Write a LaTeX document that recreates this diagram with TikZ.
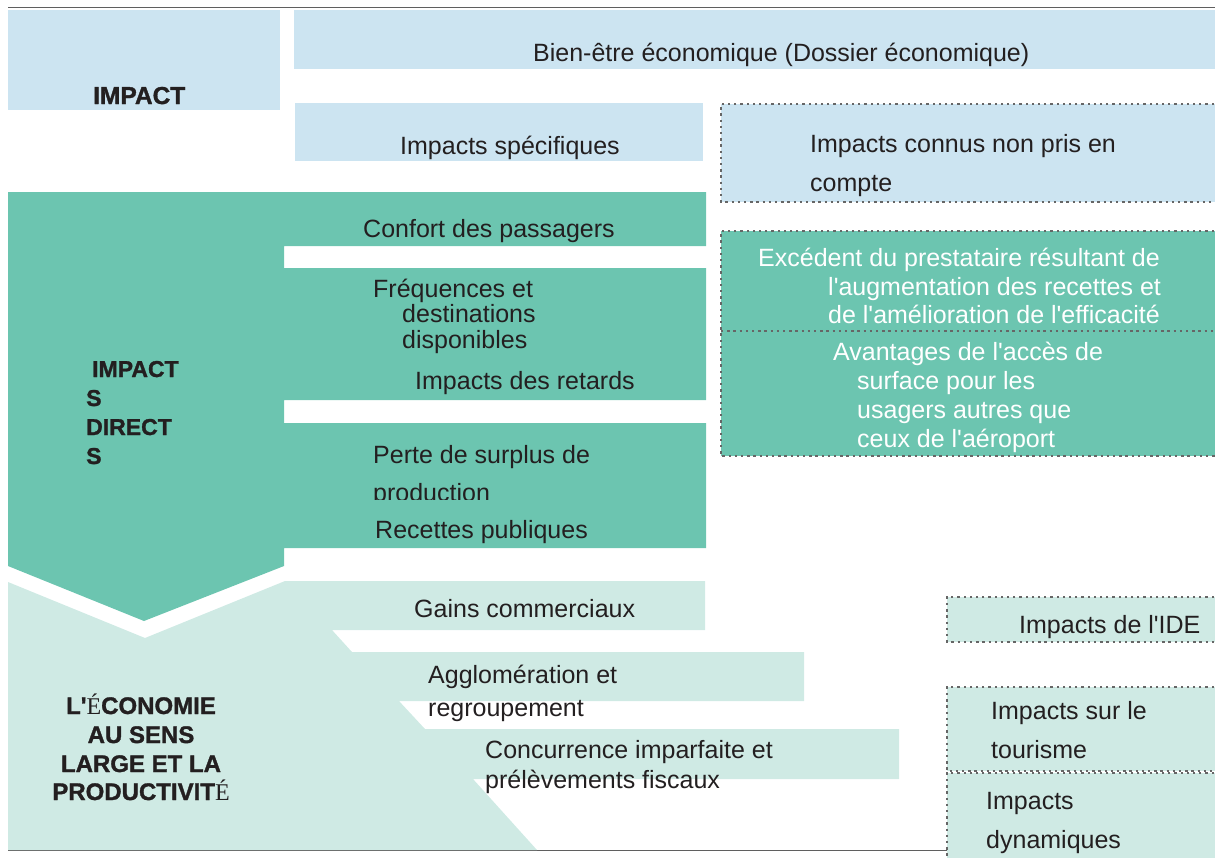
\documentclass[tikz,border=0pt]{standalone}
\usepackage{fontspec}
\setmainfont{Liberation Sans}
\newfontfamily\accentfont{Liberation Serif}
\newfontfamily\heavyfont[FakeBold=1.3]{Liberation Sans Bold}
\newcommand{\ap}{\textquotesingle}
\begin{document}
\definecolor{paleblue}{HTML}{CCE4F1}
\definecolor{teal}{HTML}{6CC5B0}
\definecolor{paleteal}{HTML}{CFEAE4}
\definecolor{ink}{HTML}{231F20}
\definecolor{rule}{HTML}{5F5F5F}
\definecolor{dots}{HTML}{666666}
\begin{tikzpicture}[x=1pt,y=-1pt,
  txt/.style={anchor=base west,inner sep=0pt,text=ink,font=\fontsize{25}{29}\selectfont},
  wtxt/.style={txt,text=white},
  head/.style={anchor=base west,inner sep=0pt,text=ink,font=\fontsize{23}{29}\selectfont\heavyfont},
  ecohead/.style={head,anchor=base,font=\fontsize{24}{29}\selectfont\heavyfont},
  dotline/.style={draw=dots,line width=2.3pt,dash pattern=on 2.3pt off 3.9pt}]
\useasboundingbox (0,0) rectangle (1215,857);
\clip (0,0) rectangle (1215,857);

% frame rules
\draw[rule,line width=1.4pt] (8,7.5) -- (1215,7.5);
\draw[rule,line width=1.4pt] (8,850.5) -- (947,850.5);

% top level: economic welfare
\fill[paleblue] (8,10) rectangle (280,110);
\fill[paleblue] (294,10) rectangle (1215,69);
\fill[paleblue] (295,103) rectangle (703,161);
\fill[paleblue] (721,104) rectangle (1220,202);
\draw[dotline] (1220,104) -- (721,104) -- (721,202) -- (1220,202);

% direct impacts: chevron with its three bands
\fill[teal] (8,192) -- (706,192) -- (706,246) -- (284,246) -- (284,268)
  -- (706,268) -- (706,400) -- (284,400) -- (284,423) -- (706,423)
  -- (706,548) -- (284,548) -- (284,566) -- (144,621) -- (8,566) -- cycle;
\fill[teal] (721,231) rectangle (1220,456);
\draw[dotline] (1220,231) -- (721,231) -- (721,456) -- (1220,456);
\draw[dotline] (721,331) -- (1220,331);

% wider economy: stepped pale band
\fill[paleteal] (8,582) -- (145,638) -- (285,581) -- (705,581) -- (705,630)
  -- (332,630) -- (352,652) -- (804,652) -- (804,701) -- (399,701)
  -- (425,729) -- (899,729) -- (899,779) -- (473,779) -- (537,850)
  -- (8,850) -- cycle;
\fill[paleteal] (947,597) rectangle (1220,642);
\draw[dotline] (1220,597) -- (947,597) -- (947,642) -- (1220,642);
\fill[paleteal] (947,687) rectangle (1220,771);
\draw[dotline] (1220,687) -- (947,687) -- (947,771) -- (1220,771);
\fill[paleteal] (947,773) rectangle (1220,860);
\draw[dotline] (1220,773) -- (947,773) -- (947,860);

% headings
\node[head,font=\fontsize{24.5}{29}\selectfont\heavyfont] (hImpact) at (93,104) {IMPACT};
\node[head] (hDir1) at (92,377) {IMPACT};
\node[head] (hDir2) at (86,406) {S};
\node[head] (hDir3) at (86,435) {DIRECT};
\node[head] (hDir4) at (86,464) {S};
\node[ecohead] (hEco1) at (141,714) {L\ap{\accentfont É}CONOMIE};
\node[ecohead] (hEco2) at (141,743) {AU SENS};
\node[ecohead] (hEco3) at (141,772) {LARGE ET LA};
\node[ecohead] (hEco4) at (141,800) {PRODUCTIVIT{\accentfont É}};

% welfare labels
\node[txt] (welfare) at (533,61) {Bien-être économique (Dossier économique)};
\node[txt] (specific) at (400,154) {Impacts spécifiques};
\node[txt] (known1) at (810,152) {Impacts connus non pris en};
\node[txt] (known2) at (810,191) {compte};

% direct impact labels
\node[txt] (comfort) at (363,237) {Confort des passagers};
\node[txt] (freq1) at (373,297) {Fréquences et};
\node[txt] (freq2) at (402,322) {destinations};
\node[txt] (freq3) at (402,348) {disponibles};
\node[txt] (delays) at (415,389) {Impacts des retards};
\node[txt] (surplus1) at (373,463) {Perte de surplus de};
\begin{scope}
  \clip (284,423) rectangle (706,499);
  \node[txt] (surplus2) at (373,501) {production};
\end{scope}
\node[txt] (revenue) at (375,538) {Recettes publiques};

\node[wtxt] (prov1) at (758,266) {Excédent du prestataire résultant de};
\node[wtxt] (prov2) at (828,295) {l\ap augmentation des recettes et};
\node[wtxt] (prov3) at (828,323) {de l\ap amélioration de l\ap efficacité};
\node[wtxt] (access1) at (833,360) {Avantages de l\ap accès de};
\node[wtxt] (access2) at (857,389) {surface pour les};
\node[wtxt] (access3) at (857,418) {usagers autres que};
\node[wtxt] (access4) at (857,447) {ceux de l\ap aéroport};

% wider economy labels
\node[txt] (trade) at (414,617) {Gains commerciaux};
\node[txt] (aggl1) at (428,683) {Agglomération et};
\node[txt] (aggl2) at (428,716) {regroupement};
\node[txt] (comp1) at (485,758) {Concurrence imparfaite et};
\node[txt] (comp2) at (485,788) {prélèvements fiscaux};
\node[txt] (fdi) at (1019,633) {Impacts de l\ap IDE};
\node[txt] (tour1) at (991,719) {Impacts sur le};
\node[txt] (tour2) at (991,758) {tourisme};
\node[txt] (dyn1) at (986,809) {Impacts};
\node[txt] (dyn2) at (986,848) {dynamiques};
\end{tikzpicture}
\end{document}
